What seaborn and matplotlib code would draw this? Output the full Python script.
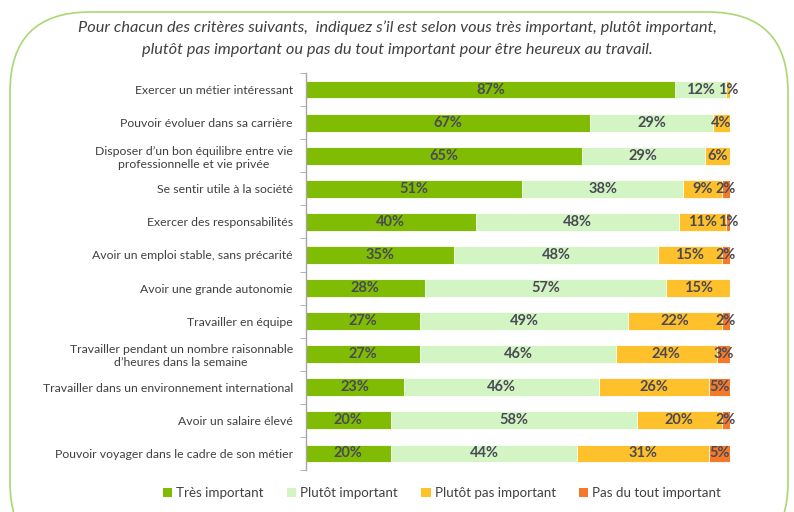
import numpy as np
import pandas as pd
import matplotlib
matplotlib.use("Agg")
import matplotlib.pyplot as plt
from matplotlib.patches import FancyBboxPatch, Patch
import seaborn as sns

# ========== DATA ==========
criteres = [
    "Exercer un métier intéressant",
    "Pouvoir évoluer dans sa carrière",
    "Disposer d’un bon équilibre entre vie\nprofessionnelle et vie privée",
    "Se sentir utile à la société",
    "Exercer des responsabilités",
    "Avoir un emploi stable, sans précarité",
    "Avoir une grande autonomie",
    "Travailler en équipe",
    "Travailler pendant un nombre raisonnable\nd’heures dans la semaine",
    "Travailler dans un environnement international",
    "Avoir un salaire élevé",
    "Pouvoir voyager dans le cadre de son métier",
]
tres_important = [87, 67, 65, 51, 40, 35, 28, 27, 27, 23, 20, 20]
plutot_important = [12, 29, 29, 38, 48, 48, 57, 49, 46, 46, 58, 44]
plutot_pas_important = [1, 4, 6, 9, 11, 15, 15, 22, 24, 26, 20, 31]
pas_du_tout_important = [0, 0, 0, 2, 1, 2, 0, 2, 3, 5, 2, 5]

series_names = ["Très important", "Plutôt important", "Plutôt pas important", "Pas du tout important"]
colors = ["#7fbc03", "#d3f5c3", "#ffc12b", "#f47a2a"]

df = pd.DataFrame({
    "critere": criteres,
    series_names[0]: tres_important,
    series_names[1]: plutot_important,
    series_names[2]: plutot_pas_important,
    series_names[3]: pas_du_tout_important,
})
cum = df[series_names].cumsum(axis=1)

# ========== PLOT ==========
sns.set_style("white")
plt.rcParams["font.family"] = ["Lato", "DejaVu Sans"]

fig = plt.figure(figsize=(7.94, 5.12), dpi=100)
ax = fig.add_axes([306 / 794, 1 - 470 / 512, (730 - 306) / 794, (470 - 73) / 512])

# stacked bars: draw cumulative totals from the back to the front
for name, color in reversed(list(zip(series_names, colors))):
    sns.barplot(x=cum[name], y=df["critere"], orient="h", color=color,
                width=0.54, ax=ax, edgecolor="white", linewidth=0.6, saturation=1)

# segment labels
for i in range(len(df)):
    left = 0
    for name in series_names:
        v = df.loc[i, name]
        if v > 0:
            ax.text(left + v / 2, i, f"{v}%", ha="center", va="center",
                    fontsize=10.5, fontweight="bold", color="#4a4a56")
        left += v

ax.set_xlim(0, 100)
ax.set_ylim(len(df) - 0.5, -0.5)
ax.set_xlabel("")
ax.set_ylabel("")
ax.set_xticks([])
for s in ["top", "right", "bottom"]:
    ax.spines[s].set_visible(False)
ax.spines["left"].set_color("#a6a6a6")
ax.spines["left"].set_linewidth(1)

# ticks between categories
ax.set_yticks(np.arange(len(df)))
ax.set_yticklabels(criteres)
ax.tick_params(axis="y", which="major", length=0, pad=9.5, labelsize=8.8, labelcolor="#404040")
ax.set_yticks(np.arange(len(df) + 1) - 0.5, minor=True)
ax.tick_params(axis="y", which="minor", length=4, color="#a6a6a6", left=True)
plt.setp(ax.get_yticklabels(), multialignment="center")

# title
fig.text(0.5, 1 - 28 / 512, "Pour chacun des critères suivants,  indiquez s’il est selon vous très important, plutôt important,",
         ha="center", va="center", fontsize=11.8, style="italic", color="#404040")
fig.text(0.5, 1 - 50 / 512, "plutôt pas important ou pas du tout important pour être heureux au travail.",
         ha="center", va="center", fontsize=11.8, style="italic", color="#404040")

# legend
handles = [Patch(facecolor=c, edgecolor="none", label=n) for n, c in zip(series_names, colors)]
fig.legend(handles=handles, loc="center", bbox_to_anchor=(442 / 794, 1 - 493 / 512), ncol=4,
           frameon=False, fontsize=9.6, handlelength=0.7, handleheight=0.7, handletextpad=0.3,
           columnspacing=1.75, labelcolor="#404040")

# rounded green frame
frame = FancyBboxPatch((0.10, -0.5), 7.78, 5.5, boxstyle="round,pad=0,rounding_size=0.8",
                       transform=fig.dpi_scale_trans, facecolor="none", edgecolor="#a8d872",
                       linewidth=1.2, clip_on=False)
fig.patches.append(frame)

fig.savefig("out.png", dpi=100)
